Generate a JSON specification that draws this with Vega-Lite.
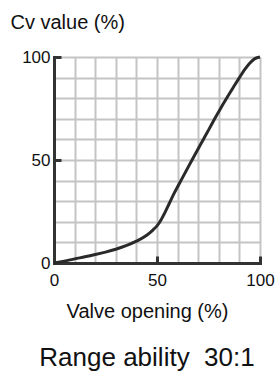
{
  "$schema": "https://vega.github.io/schema/vega-lite/v6.json",
  "width": 206,
  "height": 206,
  "autosize": "none",
  "padding": {"left": 54, "top": 57, "right": 17, "bottom": 111},
  "background": "white",
  "config": {"font": "Liberation Sans", "view": {"stroke": null}},
  "title": {"text": "Range ability\u00a0 30:1", "orient": "bottom", "anchor": "middle", "frame": "group", "dx": -10, "offset": 24, "fontSize": 26, "fontWeight": "normal", "color": "#111111", "font": "Liberation Sans"},
  "data": {"values": [
    {"opening": 0, "cv": 0},
    {"opening": 5, "cv": 0.9},
    {"opening": 10, "cv": 2},
    {"opening": 15, "cv": 3},
    {"opening": 20, "cv": 4.1},
    {"opening": 25, "cv": 5.3},
    {"opening": 30, "cv": 6.7},
    {"opening": 35, "cv": 8.4},
    {"opening": 40, "cv": 10.6},
    {"opening": 45, "cv": 13.5},
    {"opening": 48, "cv": 16},
    {"opening": 50, "cv": 18},
    {"opening": 52, "cv": 21},
    {"opening": 54, "cv": 24.8},
    {"opening": 56, "cv": 29},
    {"opening": 58, "cv": 33.2},
    {"opening": 60, "cv": 37},
    {"opening": 62, "cv": 40.7},
    {"opening": 65, "cv": 46.3},
    {"opening": 67, "cv": 50},
    {"opening": 70, "cv": 55.5},
    {"opening": 72.5, "cv": 60},
    {"opening": 75, "cv": 64.5},
    {"opening": 78, "cv": 70},
    {"opening": 81, "cv": 75.3},
    {"opening": 84, "cv": 80.3},
    {"opening": 87, "cv": 85.2},
    {"opening": 90, "cv": 90},
    {"opening": 93, "cv": 94.5},
    {"opening": 95, "cv": 97},
    {"opening": 97.5, "cv": 99.2},
    {"opening": 100, "cv": 100}
  ]},
  "mark": {"type": "line", "interpolate": "monotone", "color": "#2a2a2a", "strokeWidth": 3},
  "encoding": {
    "x": {
      "field": "opening", "type": "quantitative",
      "scale": {"domain": [0, 100], "nice": false, "zero": false},
      "axis": {
        "values": [0, 10, 20, 30, 40, 50, 60, 70, 80, 90, 100],
        "labelExpr": "datum.value % 50 === 0 ? datum.label : ''",
        "labelFontSize": 17, "labelColor": "#111111", "labelPadding": 16, "labelFlush": false,
        "domainColor": "#333333", "domainWidth": 3, "domainCap": "square",
        "tickColor": "#333333", "tickWidth": 3, "tickSize": -7,
        "tickOpacity": {"condition": {"test": "datum.value % 50 === 0 && datum.value > 0", "value": 1}, "value": 0},
        "grid": true, "gridColor": "#c4c4c4", "gridWidth": 2,
        "title": "Valve opening (%)", "titleFontSize": 20, "titleFontWeight": "normal", "titleColor": "#111111",
        "titleX": 93, "titleY": 54, "titleAlign": "center", "titleBaseline": "alphabetic"
      }
    },
    "y": {
      "field": "cv", "type": "quantitative",
      "scale": {"domain": [0, 100], "nice": false},
      "axis": {
        "values": [0, 10, 20, 30, 40, 50, 60, 70, 80, 90, 100],
        "labelExpr": "datum.value % 50 === 0 ? datum.label : ''",
        "labelFontSize": 17, "labelColor": "#111111", "labelPadding": 11,
        "domainColor": "#333333", "domainWidth": 3, "domainCap": "square",
        "tickColor": "#333333", "tickWidth": 3, "tickSize": -7,
        "tickOpacity": {"condition": {"test": "datum.value % 50 === 0 && datum.value > 0", "value": 1}, "value": 0},
        "grid": true, "gridColor": "#c4c4c4", "gridWidth": 2,
        "title": "Cv value (%)", "titleFontSize": 20, "titleFontWeight": "normal", "titleColor": "#111111",
        "titleAngle": 0, "titleX": -44, "titleY": -29, "titleAlign": "left", "titleBaseline": "alphabetic"
      }
    }
  }
}
